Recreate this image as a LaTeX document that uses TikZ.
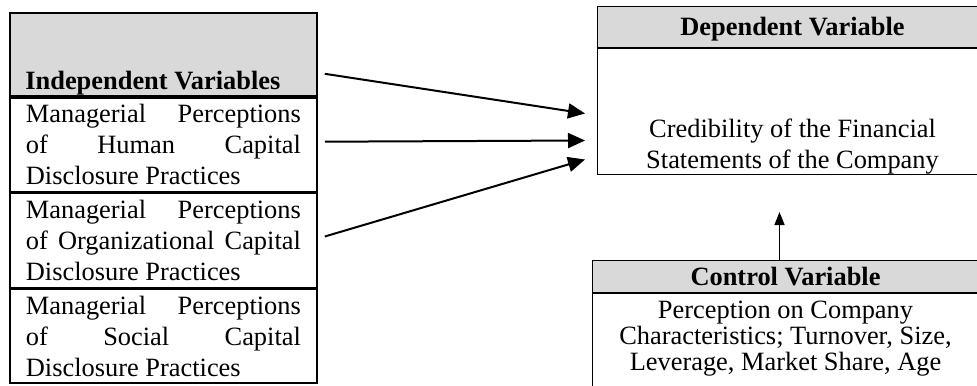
\documentclass[tikz,border=0pt]{standalone}
\usepackage{fontspec}
\setmainfont{Liberation Serif}
\usepackage{tikz}
\usetikzlibrary{positioning,arrows.meta}
\definecolor{headgray}{HTML}{D9D9D9}
\setlength{\parindent}{0pt}
\tikzset{
    var-box/.style = {draw=black, line width=0.9pt, rectangle, inner xsep=8pt, inner ysep=0pt, text width=137.5pt, minimum height=47pt, align=justify, font=\fontsize{13.2}{15.5}\selectfont},
    var-head/.style = {draw=black, line width=0.9pt, fill=headgray, rectangle, inner sep=0pt, minimum width=153.5pt, minimum height=41.5pt},
    var-title/.style = {inner sep=0pt, font=\bfseries\fontsize{13.2}{15.5}\selectfont},
    head-box/.style = {draw=black, line width=0.5pt, fill=headgray, rectangle, inner sep=0pt, font=\bfseries\fontsize{13.2}{15.5}\selectfont},
    body-box/.style = {draw=black, line width=0.5pt, rectangle, inner sep=0pt},
    body-text/.style = {inner sep=0pt, align=center, font=\fontsize{13.2}{15.5}\selectfont},
    arrow-line/.style = {-{Triangle[length=8.5pt,width=7.5pt]}, line width=1pt},
    small-arrow/.style = {-{Triangle[length=6.5pt,width=5pt]}, line width=0.8pt},
}

\begin{document}
\begin{tikzpicture}[x=0.5pt, y=-0.5pt]
\useasboundingbox (0,0) rectangle (977,385);

\node[var-head, anchor=north west] (indhead) at (9,12) {};
\node[var-title, anchor=base west] (indtitle) at ([xshift=8pt,yshift=3.5pt]indhead.south west) {Independent Variables};
\node[var-box, below=0pt of indhead] (human) {Managerial Perceptions\linebreak of Human Capital\linebreak Disclosure Practices};
\node[var-box, below=0pt of human] (organ) {Managerial Perceptions\linebreak of Organizational Capital\linebreak Disclosure Practices};
\node[var-box, below=0pt of organ] (social) {Managerial Perceptions\linebreak of Social Capital\linebreak Disclosure Practices};

\node[head-box, anchor=north west, minimum width=195pt, minimum height=20.5pt, text depth=1pt] (dephead) at (597,6) {Dependent Variable};
\node[body-box, minimum width=195pt, minimum height=63pt, below=0pt of dephead] (depbody) {};
\node[body-text, anchor=south] (deptext) at ([yshift=0.3pt]depbody.south) {Credibility of the Financial\\Statements of the Company};

\node[head-box, anchor=north west, minimum width=193pt, minimum height=16pt] (ctrlhead) at (592,260) {Control Variable};
\node[body-box, minimum width=193pt, minimum height=60pt, below=0pt of ctrlhead] (ctrlbody) {};
\node[body-text, anchor=north, font=\fontsize{13.2}{13}\selectfont] (ctrltext) at ([yshift=-4pt]ctrlbody.north) {Perception on Company\\Characteristics; Turnover, Size,\\Leverage, Market Share, Age};

\draw[arrow-line] ([xshift=3.5pt,yshift=11.5pt]indhead.south east) -- ([xshift=-6pt,yshift=-1pt]depbody.west);
\draw[arrow-line] ([xshift=3.5pt,yshift=1.5pt]human.east) -- ([xshift=-6pt,yshift=-14.5pt]depbody.west);
\draw[arrow-line] ([xshift=3.5pt,yshift=2pt]organ.east) -- ([xshift=-6pt,yshift=-24pt]depbody.west);

\coordinate (ctrltip) at ([xshift=-3pt,yshift=24pt]ctrlhead.north);
\draw[small-arrow] ([xshift=-3pt]ctrlhead.north) -- (ctrltip);
\end{tikzpicture}
\end{document}
